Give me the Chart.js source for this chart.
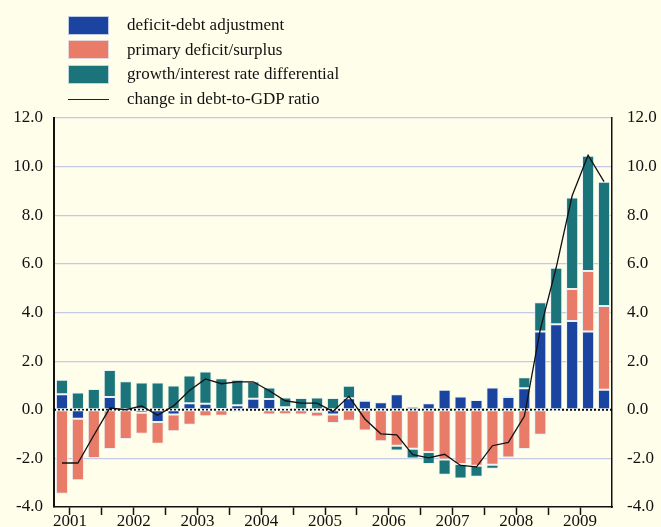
<!DOCTYPE html>
<html>
<head>
<meta charset="utf-8">
<script src="https://cdn.jsdelivr.net/npm/chart.js@4.4.1/dist/chart.umd.min.js"></script>
<style>
  html, body { margin: 0; padding: 0; background: #fefeeb; }
  #wrap { position: relative; width: 661px; height: 527px; }
  #legend {
    position: absolute; left: 68px; top: 13px;
    font: 17px "Liberation Serif", "Times New Roman", serif; color: #111;
  }
  .row { display: flex; align-items: center; height: 24.6px; }
  .sw { width: 41px; height: 19px; margin-right: 18px; box-sizing: border-box; border: 1px solid rgba(230,238,245,0.8); }
  .ln { width: 41px; height: 1px; background: #222; margin-right: 18px; }
</style>
</head>
<body>
<div id="wrap">
  <canvas id="chart" width="661" height="527"></canvas>
  <div id="legend"></div>
</div>
<script>
// 四半期（2001 Q2 〜 2009 Q4）
const quarters = [
  "2001 Q2", "2001 Q3", "2001 Q4",
  "2002 Q1", "2002 Q2", "2002 Q3", "2002 Q4",
  "2003 Q1", "2003 Q2", "2003 Q3", "2003 Q4",
  "2004 Q1", "2004 Q2", "2004 Q3", "2004 Q4",
  "2005 Q1", "2005 Q2", "2005 Q3", "2005 Q4",
  "2006 Q1", "2006 Q2", "2006 Q3", "2006 Q4",
  "2007 Q1", "2007 Q2", "2007 Q3", "2007 Q4",
  "2008 Q1", "2008 Q2", "2008 Q3", "2008 Q4",
  "2009 Q1", "2009 Q2", "2009 Q3", "2009 Q4",
];
const yearLabels = ["2001", "2002", "2003", "2004", "2005", "2006", "2007", "2008", "2009"];
const yTicks = [-4, -2, 0, 2, 4, 6, 8, 10, 12];

const deficitDebt = [
  0.64, -0.37, 0, 0.52, 0.02, -0.12, -0.5, -0.2, 0.27, 0.25, 0.03, 0.18,
  0.45, 0.44, 0.1, 0, -0.08, -0.2, 0.47, 0.37, 0.31, 0.64, 0.12, 0.27,
  0.82, 0.55, 0.4, 0.92, 0.52, 0.88, 3.22, 3.52, 3.65, 3.22, 0.82,
];
const primary = [
  -3.45, -2.53, -1.98, -1.61, -1.2, -0.87, -0.9, -0.68, -0.62, -0.27, -0.25, -0.1,
  -0.02, -0.2, -0.18, -0.2, -0.2, -0.35, -0.45, -0.85, -1.3, -1.48, -1.6, -1.74,
  -2.05, -2.23, -2.3, -2.26, -1.96, -1.61, -1.03, -0.05, 1.32, 2.49, 3.45,
];
const growthDiff = [
  0.59, 0.71, 0.85, 1.12, 1.15, 1.12, 1.12, 1.0, 1.14, 1.32, 1.27, 1.05,
  0.71, 0.48, 0.4, 0.48, 0.5, 0.48, 0.52, 0.05, 0, -0.2, -0.4, -0.49,
  -0.62, -0.6, -0.46, -0.17, 0.06, 0.46, 1.2, 2.32, 3.76, 4.74, 5.11,
];
const debtChange = [
  -2.19, -2.19, -1.05, 0.07, 0.0, 0.16, -0.23, 0.16, 0.79, 1.27, 1.07, 1.15,
  1.15, 0.78, 0.37, 0.27, 0.27, -0.07, 0.55, -0.38, -0.99, -1.03, -1.85, -1.98,
  -1.83, -2.29, -2.35, -1.48, -1.34, -0.27, 3.3, 5.85, 8.8, 10.47, 9.38,
];

const FONT = { family: '"Liberation Serif", "Times New Roman", serif', size: 17 };
const GRID = "#c6c9e6";
const barBorder = "rgba(228,238,246,0.85)";

// 0 の点線（棒の後ろに描く）
const zeroLine = {
  id: "zeroLine",
  beforeDatasetsDraw(chart) {
    const { ctx, chartArea, scales } = chart;
    const y = scales.y.getPixelForValue(0);
    ctx.save();
    ctx.strokeStyle = "#000";
    ctx.lineWidth = 2;
    ctx.setLineDash([2, 2]);
    ctx.beginPath();
    ctx.moveTo(chartArea.left, y);
    ctx.lineTo(chartArea.right, y);
    ctx.stroke();
    ctx.restore();
  },
};

const barSeries = [
  { label: "deficit-debt adjustment", data: deficitDebt, color: "#1b43a0" },
  { label: "primary deficit/surplus", data: primary, color: "#e97b69" },
  { label: "growth/interest rate differential", data: growthDiff, color: "#1a7479" },
];

const datasets = barSeries.map((s) => ({
  type: "bar",
  label: s.label,
  data: s.data,
  backgroundColor: s.color,
  borderColor: barBorder,
  borderWidth: 1,
  borderSkipped: false,
  barPercentage: 0.76,
  categoryPercentage: 1,
  order: 1,
}));
datasets.push({
  type: "line",
  label: "change in debt-to-GDP ratio",
  data: debtChange,
  borderColor: "#111",
  borderWidth: 1.3,
  pointRadius: 0,
  tension: 0,
  stack: "line",
  order: 0,
});

// y 軸ラベルの上下はみ出し分を詰める
function fixY(width) {
  return (axis) => {
    axis.width = width;
    axis.paddingTop = 0;
    axis.paddingBottom = 0;
  };
}

new Chart(document.getElementById("chart"), {
  data: { labels: quarters, datasets },
  options: {
    responsive: false,
    animation: false,
    layout: { padding: { top: 118, left: 0, right: 0, bottom: 0 } },
    plugins: { legend: { display: false }, tooltip: { enabled: false } },
    scales: {
      x: { type: "category", stacked: true, display: false, offset: true },
      xYears: {
        type: "linear",
        position: "bottom",
        min: -0.5,
        max: quarters.length - 0.5,
        afterBuildTicks(axis) {
          // 半年ごとの目盛り、年ラベルは年央
          const t = [];
          for (let i = 0; i < yearLabels.length * 2 - 1; i++) t.push({ value: 0.5 + i * 2 });
          axis.ticks = t;
        },
        afterFit(axis) {
          axis.height = 20;
          axis.paddingLeft = 0;
          axis.paddingRight = 0;
        },
        ticks: {
          autoSkip: false,
          maxRotation: 0,
          padding: -4,
          color: "#111",
          font: FONT,
          callback: (v) => {
            const k = (v - 0.5) / 4;
            return Number.isInteger(k) ? yearLabels[k] : "";
          },
        },
        grid: { drawOnChartArea: false, drawTicks: true, tickLength: 8, tickColor: "#111", tickWidth: 1.5 },
        border: { display: true, color: "#111", width: 1.5 },
      },
      y: {
        position: "left",
        stacked: true,
        min: -4,
        max: 12,
        afterBuildTicks(axis) { axis.ticks = yTicks.map((v) => ({ value: v })); },
        afterFit: fixY(54),
        ticks: { padding: 11, color: "#111", font: FONT, callback: (v) => v.toFixed(1) },
        grid: {
          drawTicks: false,
          lineWidth: 1.2,
          color: (c) => (c.tick && (c.tick.value === 0 || c.tick.value === -4) ? "rgba(0,0,0,0)" : GRID),
        },
        border: { display: true, color: "#111", width: 2 },
      },
      y2: {
        position: "right",
        min: -4,
        max: 12,
        afterBuildTicks(axis) { axis.ticks = yTicks.map((v) => ({ value: v })); },
        afterFit: fixY(49),
        ticks: { padding: 15, color: "#111", font: FONT, callback: (v) => v.toFixed(1) },
        grid: { drawOnChartArea: false, drawTicks: false },
        border: { display: true, color: "#111", width: 1.5 },
      },
    },
  },
  plugins: [zeroLine],
});

// 凡例（HTML）
const legend = document.getElementById("legend");
barSeries.forEach((s) => {
  const row = document.createElement("div");
  row.className = "row";
  row.innerHTML = `<span class="sw" style="background:${s.color}"></span><span>${s.label}</span>`;
  legend.appendChild(row);
});
const lineRow = document.createElement("div");
lineRow.className = "row";
lineRow.innerHTML = `<span class="ln"></span><span>change in debt-to-GDP ratio</span>`;
legend.appendChild(lineRow);
</script>
</body>
</html>
